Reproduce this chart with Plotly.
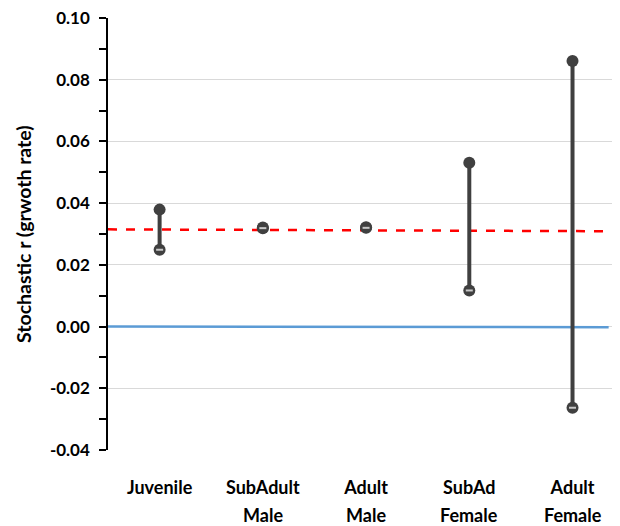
import plotly.graph_objects as go

categories = ["Juvenile", "SubAdult", "Adult", "SubAd", "Adult"]
categories_line2 = ["", "Male", "Male", "Female", "Female"]
low_values = [0.0249, 0.0319, 0.0320, 0.0117, -0.0263]
high_values = [0.0379, 0.0321, 0.0322, 0.0531, 0.0861]
ref_line_x = [-0.5, 4.30]
ref_line_y = [0.0315, 0.0309]
zero_line_x = [-0.5, 4.35]
zero_line_y = [0.0, -0.0002]
y_ticks = [-0.04, -0.02, 0.0, 0.02, 0.04, 0.06, 0.08, 0.10]

dark = "#404040"
# page body has an 8px margin, so the figure is drawn 8px right/down
W, H = 612, 518
L, R, T, B = 100, 0, 10, 76
fig = go.Figure()

fig.add_trace(go.Scatter(x=zero_line_x, y=zero_line_y, mode="lines",
                         line=dict(color="#5b9bd5", width=2.5), showlegend=False, hoverinfo="skip"))
fig.add_trace(go.Scatter(x=ref_line_x, y=ref_line_y, mode="lines",
                         line=dict(color="#ff0000", width=2.5, dash="dash"), showlegend=False, hoverinfo="skip"))

for i, (lo, hi) in enumerate(zip(low_values, high_values)):
    fig.add_trace(go.Scatter(x=[i, i], y=[lo, hi], mode="lines+markers",
                             line=dict(color=dark, width=4),
                             marker=dict(color=dark, size=12),
                             showlegend=False))

fig.add_trace(go.Scatter(x=list(range(len(categories))), y=low_values, mode="markers",
                         marker=dict(symbol="line-ew", size=5, line=dict(color="#c8c8c8", width=2)),
                         showlegend=False, hoverinfo="skip"))

pw = W - L - R
ph = H - T - B
fig.add_annotation(text="Stochastic r (grwoth rate)", textangle=-90,
                   xref="paper", yref="paper",
                   x=(15 - L) / pw, y=0.5,
                   xanchor="center", yanchor="middle", showarrow=False,
                   font=dict(size=19.5, family="Lato", weight="bold", color="#000000"))

for i, t in enumerate(categories_line2):
    if t:
        fig.add_annotation(text=t, xref="x", yref="paper", x=i, y=0,
                           yanchor="top", xanchor="center", yshift=-52, showarrow=False,
                           font=dict(size=18, family="Lato", weight="bold", color="#000000"))

fig.update_layout(
    width=W, height=H,
    margin=dict(l=L, r=R, t=T, b=B),
    paper_bgcolor="white", plot_bgcolor="white",
    font=dict(family="Lato, Open Sans, sans-serif", color="#000000"),
)
fig.update_xaxes(
    range=[-0.5, 4.46], automargin=False,
    tickmode="array", tickvals=list(range(len(categories))), ticktext=categories,
    tickfont=dict(size=18, family="Lato", weight="bold"),
    showgrid=False, zeroline=False, showline=False,
    ticks="", ticklabelstandoff=25, ticklabeloverflow="allow",
)
fig.update_yaxes(
    range=[-0.04, 0.10], automargin=False,
    tickmode="array", tickvals=y_ticks, ticktext=[f"{v:.2f}" for v in y_ticks],
    tickfont=dict(size=17, family="Lato", weight="bold"),
    showgrid=True, gridcolor="#d9d9d9", gridwidth=1,
    zeroline=False,
    showline=True, linecolor="#000000", linewidth=1.5,
    ticks="outside", ticklen=7, tickcolor="#000000", tickwidth=1.5,
    ticklabelstandoff=6, ticklabeloverflow="allow",
    minor=dict(dtick=0.01, tick0=0.01, ticks="outside", ticklen=7, tickcolor="#000000", tickwidth=1.5, showgrid=False),
)

fig.write_html("out.html")
